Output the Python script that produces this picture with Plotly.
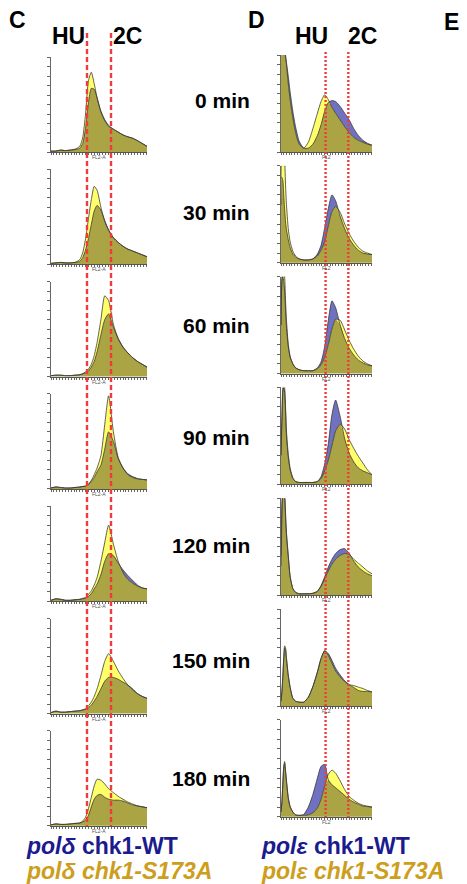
import plotly.graph_objects as go

# The page body has a default 8px margin, so the figure is drawn 8px in from the
# top-left corner; all pixel positions below are given in window coordinates.
OFF = 8
W, H = 467 - OFF, 884 - OFF

# ---------------- data ----------------
time_labels = ["0 min", "30 min", "60 min", "90 min", "120 min", "150 min", "180 min"]

# Column C (pol-delta) : FL2 channel grid (arbitrary units 0-100), counts in % of panel height
c_x = [0, 5, 10, 15, 20, 25, 30, 33, 36, 39, 42, 45, 48, 52, 56, 60, 65, 70, 75, 80, 85, 90, 95, 100]

c_wt = [
    [1, 1, 2, 1.5, 2, 2.5, 4, 9, 25, 52, 67, 66, 57, 43, 34, 28, 24, 21, 18, 16, 14.5, 12, 9, 6],
    [1, 1.5, 2, 1.5, 1.5, 2, 3, 7, 15, 27, 42, 56, 62, 57, 46, 36, 28, 23, 19, 16, 14, 12, 10, 8],
    [1, 1.5, 1.5, 1, 1, 1.5, 2, 3, 4, 6, 10, 16, 26, 44, 60, 66, 52, 40, 31, 25, 20, 16, 13, 10],
    [1, 2, 1.5, 1, 1, 1.5, 2, 2.5, 3, 4.5, 8, 12, 18, 25, 42, 60, 50, 32, 22, 16, 13, 11, 10, 9.5],
    [1, 2.5, 2, 1, 1, 1.5, 2, 2.5, 3, 5, 8, 13, 18, 28, 42, 50, 48, 40, 33, 27, 22, 17, 14, 13],
    [1, 2.5, 1.5, 1.5, 2, 2.5, 3, 3.5, 4.5, 6, 9, 13, 18, 26, 34, 38, 38, 36, 33, 30, 26, 21, 18, 16],
    [1, 2, 1.5, 1.5, 2, 2.5, 3, 4, 6, 11, 20, 28, 32, 33, 30, 28, 27, 27, 26, 24, 22, 21, 20, 19],
]
c_s173a = [
    [1, 1, 2, 1.5, 2, 3, 6, 15, 40, 75, 84, 72, 57, 42, 33, 27, 24, 21, 18, 16, 14.5, 12, 9, 6],
    [1, 1.5, 2, 1.5, 1.5, 2, 5, 12, 27, 48, 68, 82, 78, 60, 45, 36, 28, 23, 19, 16, 14, 12, 10, 8],
    [1, 1.5, 1.5, 1, 1, 1.5, 2, 3, 5, 8, 13, 22, 36, 60, 85, 80, 55, 40, 31, 25, 20, 16, 13, 10],
    [1, 2, 1.5, 1, 1, 1.5, 2, 2.5, 3, 5, 9, 15, 22, 35, 68, 98, 60, 33, 22, 15, 12, 10.5, 10, 9.5],
    [1, 2.5, 2, 1, 1, 1.5, 2, 3, 4, 7, 11, 17, 25, 42, 62, 80, 60, 42, 30, 23, 19, 16, 14, 13],
    [1, 2.5, 1.5, 1.5, 2, 2.5, 3, 4, 5, 8, 12, 18, 26, 40, 55, 63, 55, 45, 37, 30, 25, 21, 18, 16],
    [1, 2, 1.5, 1.5, 2, 2.5, 3, 5, 9, 18, 30, 42, 49, 48, 44, 39, 35, 31, 28, 25, 23, 21, 20, 19],
]

# Column D (pol-epsilon)
d_x = [0, 1, 2, 3, 4, 5, 6, 8, 10, 13, 16, 20, 25, 30, 35, 40, 44, 48, 52, 56, 60, 65, 70, 75, 80, 85, 90, 95, 100]

d_wt = [
    [110, 110, 110, 108, 104, 98, 92, 78, 62, 42, 26, 11, 4, 4, 8, 17, 28, 42, 51, 53, 52, 47, 40, 33, 24, 17, 12, 9, 7],
    [88, 88, 85, 70, 55, 42, 34, 24, 16, 9, 6, 4, 3, 3, 4, 9, 18, 36, 56, 70, 64, 48, 35, 25, 18, 13, 10, 9, 8.5],
    [50, 95, 100, 95, 85, 65, 48, 28, 17, 10, 6, 4, 3, 3, 3, 6, 12, 28, 55, 75, 68, 50, 36, 26, 19, 14, 11, 9, 8],
    [30, 65, 95, 100, 95, 75, 50, 28, 15, 6, 3, 2, 2, 2, 2, 3, 8, 21, 42, 72, 87, 70, 47, 32, 23, 17, 14, 12, 10],
    [40, 95, 105, 105, 100, 80, 62, 40, 19, 7, 3, 1.5, 1.5, 1.5, 2, 4, 10, 19, 29, 37, 43, 47, 48, 43, 35, 29, 25, 22, 20],
    [5, 15, 30, 48, 60, 58, 48, 31, 19, 8, 5, 4, 4, 9, 20, 35, 49, 57, 54, 47, 39, 32, 26, 22, 19, 16, 15, 15, 14.5],
    [5, 15, 33, 50, 55, 46, 36, 19, 10, 5, 2, 1.5, 2.5, 10, 23, 40, 52, 54, 38, 33, 30, 26, 22, 18, 15, 13, 11, 10.5, 10],
]
d_s173a = [
    [105, 110, 110, 110, 108, 100, 90, 70, 54, 35, 20, 8, 4, 10, 24, 40, 52, 59, 54, 46, 40, 33, 26, 20, 15, 12, 10, 8, 7],
    [60, 110, 110, 110, 105, 80, 60, 35, 22, 12, 7, 4, 3, 3, 4, 7, 13, 22, 38, 53, 58, 52, 40, 30, 22, 16, 12, 10, 8.5],
    [50, 100, 108, 108, 100, 75, 55, 30, 18, 10, 6, 4, 3, 3, 3, 5, 9, 17, 30, 46, 56, 55, 45, 34, 25, 18, 13, 10, 8],
    [30, 70, 100, 105, 100, 80, 55, 31, 17, 7, 3, 2, 2, 2, 2, 3, 6, 14, 25, 40, 55, 62, 57, 46, 37, 29, 22, 15, 10],
    [30, 80, 105, 107, 105, 85, 65, 41, 20, 7, 3, 1.5, 1.5, 1.5, 2, 4, 9, 17, 25, 32, 37, 41, 43, 42, 37, 33, 29, 25, 22],
    [5, 15, 30, 50, 62, 60, 50, 32, 20, 8, 5, 4, 4, 9, 20, 35, 49, 57, 52, 44, 36, 30, 25, 22, 21, 19.5, 18, 16, 14.5],
    [5, 15, 35, 52, 57, 48, 38, 20, 11, 5, 2, 1.5, 1.5, 2, 4, 9, 18, 32, 44, 48, 45, 37, 28, 21, 17, 14, 12, 11, 10],
]

# gate positions (FL2 units) for HU-arrested and 2C DNA content
c_hu, c_2c = 37.5, 62.5
d_hu, d_2c = 49, 74

# ---------------- styling ----------------
BLUE = "#7171c2"
YELLOW = "#ffff6a"
OLIVE = "#aba444"
OUTLINE = "#3a3a3a"
RED = "#f23a3a"
FONT = "Liberation Sans, Arial, sans-serif"

fig = go.Figure()
layout = dict(
    width=W, height=H, margin=dict(l=0, r=0, t=0, b=0),
    paper_bgcolor="white", plot_bgcolor="white", showlegend=False,
    font=dict(family=FONT),
)

def fx(px):
    return (px - OFF) / W

def fy(py):
    return 1 - (py - OFF) / H

panels = []
for i in range(7):
    b = 152 + 112.3 * i
    panels.append(("C", i, 51, 147, b - 95, b))
for i in range(7):
    b = 152 + 110.8 * i
    panels.append(("D", i, 281, 372, b - 97, b))

annotations = []
for k, (col, i, x0, x1, y0, y1) in enumerate(panels):
    n = k + 1
    xa = "x" if n == 1 else f"x{n}"
    ya = "y" if n == 1 else f"y{n}"
    if col == "C":
        xs, wt, mu = c_x, c_wt[i], c_s173a[i]
    else:
        xs, wt, mu = d_x, d_wt[i], d_s173a[i]
    ov = [min(a, b) for a, b in zip(wt, mu)]
    common = dict(x=xs, xaxis=xa, yaxis=ya, mode="lines", hoverinfo="skip")
    sp = dict(shape="spline", smoothing=0.6)
    fig.add_trace(go.Scatter(y=wt, fill="tozeroy", fillcolor=BLUE, line=dict(width=0, **sp), **common))
    fig.add_trace(go.Scatter(y=mu, fill="tozeroy", fillcolor=YELLOW, line=dict(width=0, **sp), **common))
    fig.add_trace(go.Scatter(y=ov, fill="tozeroy", fillcolor=OLIVE, line=dict(width=0, **sp), **common))
    fig.add_trace(go.Scatter(y=wt, line=dict(width=0.8, color=OUTLINE, **sp), **common))
    fig.add_trace(go.Scatter(y=mu, line=dict(width=0.8, color=OUTLINE, **sp), **common))

    key = "" if n == 1 else str(n)
    layout["xaxis" + key] = dict(
        domain=[fx(x0), fx(x1)], range=[0, 100], anchor=ya,
        showgrid=False, zeroline=False, showticklabels=False,
        showline=True, linecolor="#555", linewidth=1,
        ticks="outside", ticklen=2, tickwidth=0.6, tickcolor="#666", dtick=3, tick0=0,
        fixedrange=True,
    )
    layout["yaxis" + key] = dict(
        domain=[fy(y1), fy(y0)], range=[0, 100], anchor=xa,
        showgrid=False, zeroline=False, showticklabels=False,
        showline=True, linecolor="#666", linewidth=1,
        ticks="outside", ticklen=3, tickwidth=0.6, tickcolor="#666", dtick=10, tick0=0,
        fixedrange=True,
    )
    annotations.append(dict(
        xref="paper", yref="paper", x=fx((x0 + x1) / 2), y=fy(y1 + 5),
        text="FL2-A" if col == "C" else "FL2", showarrow=False,
        font=dict(size=5, color="#555"), xanchor="center", yanchor="middle",
    ))

# red gate lines
shapes = [
    dict(type="line", xref="x", yref="paper", x0=c_hu, x1=c_hu, y0=fy(33), y1=fy(826),
         line=dict(color=RED, width=2.4, dash="5px,3px")),
    dict(type="line", xref="x", yref="paper", x0=c_2c, x1=c_2c, y0=fy(33), y1=fy(826),
         line=dict(color=RED, width=2.4, dash="5px,3px")),
    dict(type="line", xref="x8", yref="paper", x0=d_hu, x1=d_hu, y0=fy(52), y1=fy(817),
         line=dict(color=RED, width=2.4, dash="2px,2px")),
    dict(type="line", xref="x8", yref="paper", x0=d_2c, x1=d_2c, y0=fy(52), y1=fy(817),
         line=dict(color=RED, width=2.4, dash="2px,2px")),
]

def txt(x, y, s, size, color="black", anchor="center"):
    annotations.append(dict(xref="paper", yref="paper", x=fx(x), y=fy(y), text=s,
                            showarrow=False, xanchor=anchor, yanchor="middle", borderpad=0,
                            font=dict(size=size, color=color, family=FONT)))

txt(17, 20, "<b>C</b>", 23)
txt(256, 20, "<b>D</b>", 23)
txt(451, 22, "<b>E</b>", 23)
txt(68, 36, "<b>HU</b>", 23)
txt(127, 36, "<b>2C</b>", 23)
txt(311, 36, "<b>HU</b>", 23)
txt(362, 36, "<b>2C</b>", 23)

label_y = [100, 212, 325, 437, 545, 660, 778]
for lab, yy in zip(time_labels, label_y):
    txt(251, yy, "<b>" + lab + "</b>", 21, anchor="right")

NAVY = "#1b1b8e"
GOLD = "#cc9e1c"
txt(25, 846, "<b><i>polδ</i> chk1-WT</b>", 23, NAVY, "left")
txt(25, 871, "<b><i>polδ chk1-S173A</i></b>", 23, GOLD, "left")
txt(260, 846, "<b><i>polε</i> chk1-WT</b>", 23, NAVY, "left")
txt(260, 871, "<b><i>polε chk1-S173A</i></b>", 23, GOLD, "left")

layout["annotations"] = annotations
layout["shapes"] = shapes
fig.update_layout(**layout)
fig.write_html("out.html")
